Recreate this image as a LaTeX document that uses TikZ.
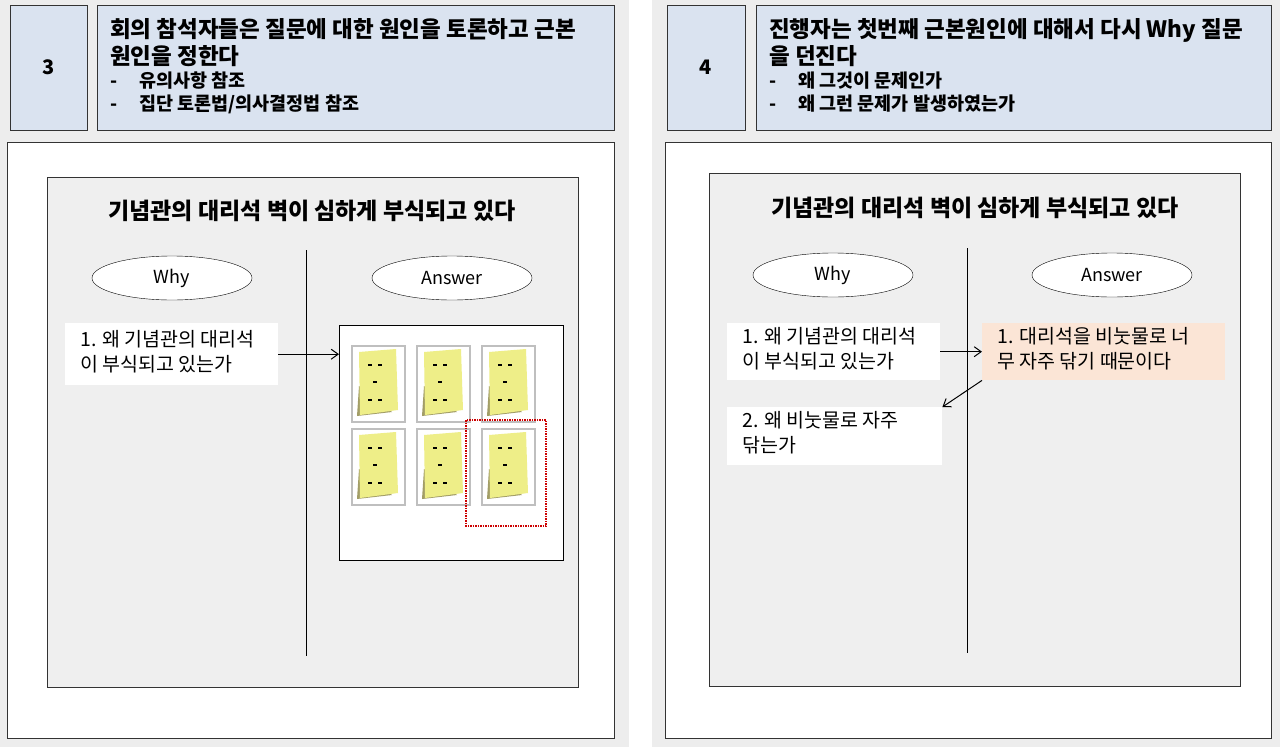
\documentclass[tikz,border=0pt]{standalone}
\usepackage{fontspec}
\setmainfont{Noto Sans CJK KR}
\usetikzlibrary{arrows.meta,shapes.geometric}
\definecolor{bgg}{HTML}{EDEDED}
\definecolor{hdr}{HTML}{DAE3F0}
\definecolor{inner}{HTML}{EFEFEF}
\definecolor{peach}{HTML}{FBE5D6}
\definecolor{note}{HTML}{EEEE88}
\tikzset{
 hbox/.style={draw=black!80,fill=hdr,line width=1pt},
 wbox/.style={draw=black!80,fill=white,line width=1pt},
 gbox/.style={draw=black!80,fill=inner,line width=1pt},
 ell/.style={draw=black,fill=white,ellipse,minimum width=160pt,minimum height=44pt,font=\fontsize{18pt}{20pt}\selectfont},
 htxt/.style={anchor=north west,align=left,font=\bfseries\fontsize{22.5pt}{27pt}\selectfont,inner sep=0},
 btxt/.style={anchor=north west,align=left,font=\fontsize{19.5pt}{25pt}\selectfont,inner sep=0},
 stxt/.style={anchor=north west,align=left,font=\bfseries\fontsize{18.5pt}{23pt}\selectfont,inner sep=0},
 arr/.style={-{Straight Barb[length=7pt,width=10pt]},line width=1pt},
 pics/sticky/.style={code={
  \draw[black!25,fill=white,line width=1.5pt] (0,0) rectangle (53,76);
  \fill[black!40!olive!60] (5,70) -- (7,40) -- (40,66) -- cycle;
  \fill[note] (7,6) -- (44,3) -- (46,64) -- (8,69) -- cycle;
  \foreach \a/\b in {18/19,28/19,23/36,18/54,28/54}
    \fill[black] (\a-2,\b-1) rectangle (\a+2,\b+1);
 }}
}
\begin{document}
\begin{tikzpicture}[x=1pt,y=-1pt]
\fill[bgg] (0,0) rectangle (1280,747);
\fill[white] (629,0) rectangle (652,747);
\useasboundingbox (0,0) rectangle (1280,747);
% left panel
\node[hbox,minimum width=77pt,minimum height=125pt] (n3) at (48.5,67.5) {\bfseries\fontsize{20pt}{22pt}\selectfont 3};
\draw[hbox] (97,5) rectangle (614,130);
\node[htxt] (t3) at (110,18) {회의 참석자들은 질문에 대한 원인을 토론하고 근본\\원인을 정한다};
\node[stxt] (t3b) at (110,72) {-\hspace{22pt}유의사항 참조\\-\hspace{22pt}집단 토론법/의사결정법 참조};
\draw[wbox] (7,142) rectangle (614,738);
\draw[gbox] (47,177) rectangle (578,687);
\node[font=\bfseries\fontsize{23pt}{26pt}\selectfont] (L) at (312,211) {기념관의 대리석 벽이 심하게 부식되고 있다};
\coordinate (lt) at (306,250); \coordinate (lb) at (306,656);
\draw[line width=1pt] (lt) -- (lb);
\node[ell] (w1) at (172,278) {Why};
\node[ell] (a1) at (452,278) {Answer};
\node[fill=white,minimum width=213pt,minimum height=62pt,anchor=north west] (q1) at (65,323) {};
\node[btxt] at (80,330) {1. 왜 기념관의 대리석\\이 부식되고 있는가};
\node[draw=black,fill=white,line width=1pt,minimum width=224pt,minimum height=235pt,anchor=north west,inner sep=0] (board) at (339,325) {};
\draw[arr] (q1.east) -- (board.west|-q1.east);
\foreach \x in {352,417,482} \foreach \y in {346,429} \pic at (\x,\y) {sticky};
\draw[red!80!black,densely dotted,line width=1.5pt] (466,420) rectangle (546,526);
% right panel
\node[hbox,minimum width=78pt,minimum height=125pt] (n4) at (706,67.5) {\bfseries\fontsize{20pt}{22pt}\selectfont 4};
\draw[hbox] (756,5) rectangle (1271,130);
\node[htxt] (t4) at (769,18) {진행자는 첫번째 근본원인에 대해서 다시 Why 질문\\을 던진다};
\node[stxt] (t4b) at (769,72) {-\hspace{22pt}왜 그것이 문제인가\\-\hspace{22pt}왜 그런 문제가 발생하였는가};
\draw[wbox] (665,142) rectangle (1271,738);
\draw[gbox] (709,173) rectangle (1240,686);
\node[font=\bfseries\fontsize{23pt}{26pt}\selectfont] (R) at (975,208) {기념관의 대리석 벽이 심하게 부식되고 있다};
\coordinate (rt) at (967,248); \coordinate (rb) at (967,653);
\draw[line width=1pt] (rt) -- (rb);
\node[ell] (w2) at (833,275) {Why};
\node[ell] (a2) at (1112,275) {Answer};
\node[fill=white,minimum width=213pt,minimum height=57pt,anchor=north west] (q2) at (727,323) {};
\node[btxt] at (742,327) {1. 왜 기념관의 대리석\\이 부식되고 있는가};
\node[fill=peach,minimum width=243pt,minimum height=57pt,anchor=north west] (p2) at (982,323) {};
\node[btxt] at (997,327) {1. 대리석을 비눗물로 너\\무 자주 닦기 때문이다};
\node[fill=white,minimum width=215pt,minimum height=58pt,anchor=north west] (q3) at (727,407) {};
\node[btxt] at (742,411) {2. 왜 비눗물로 자주\\닦는가};
\draw[arr] (q2.east) -- (p2.west);
\draw[arr] (p2.south west) -- (q3.north east);
\end{tikzpicture}
\end{document}
